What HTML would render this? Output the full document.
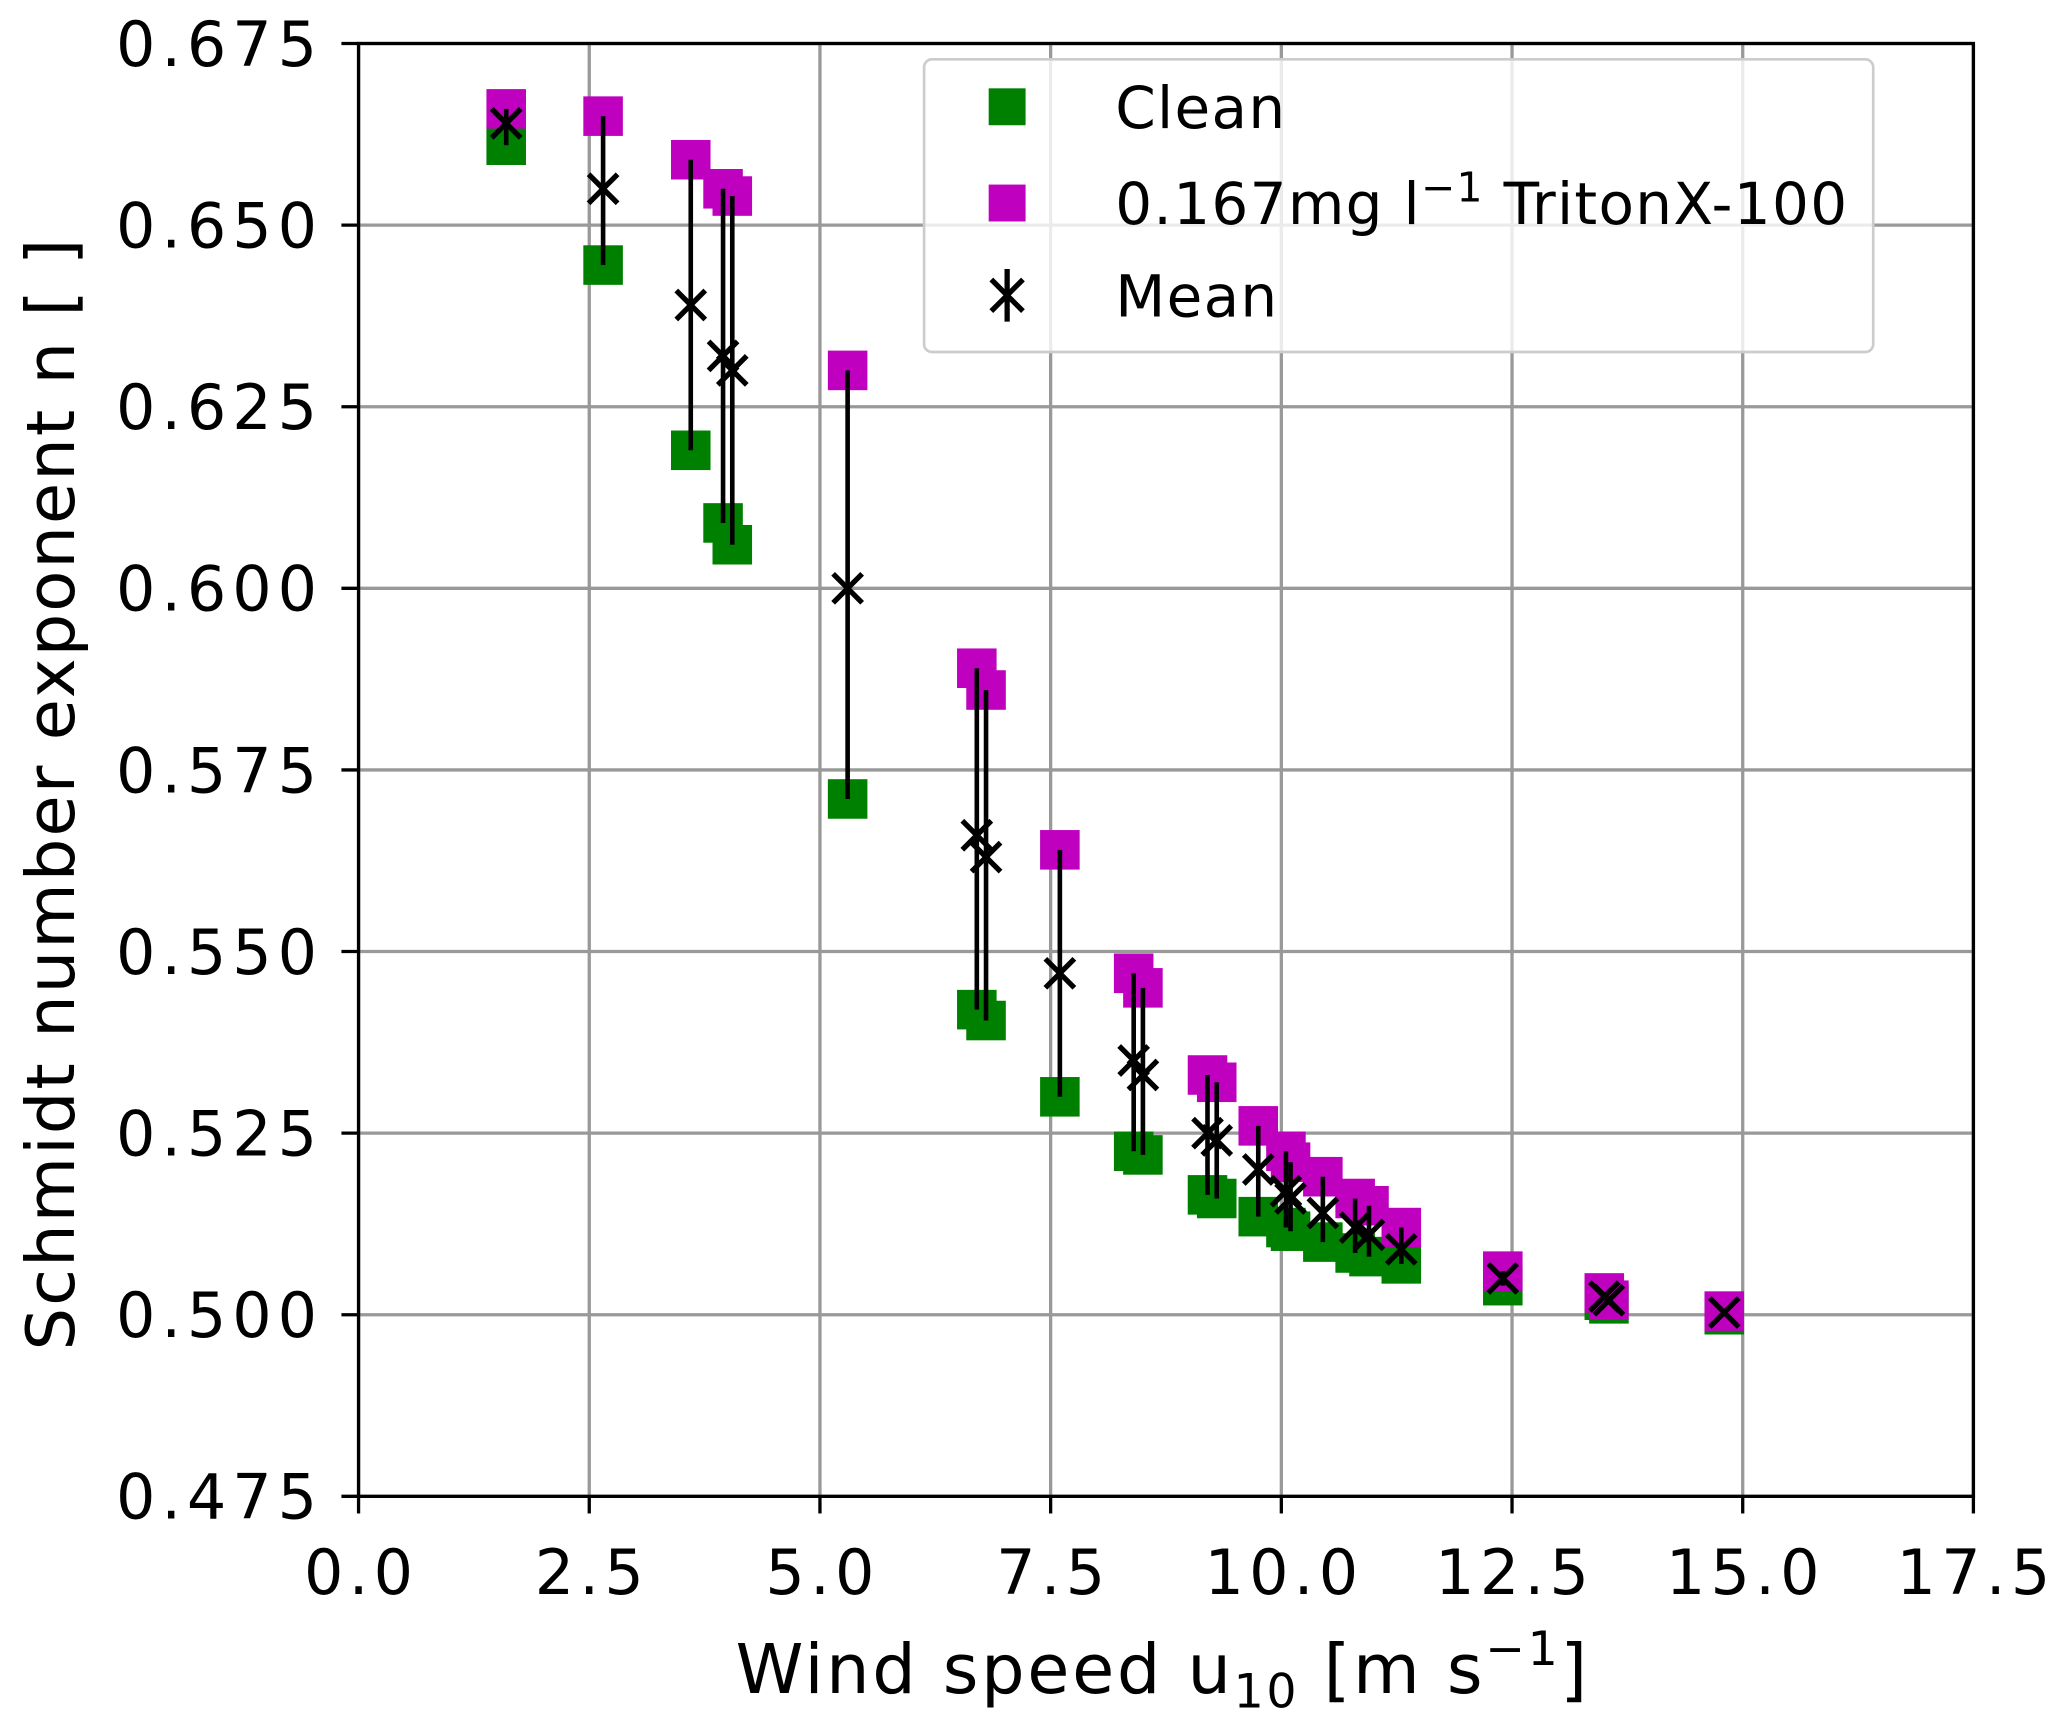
<!DOCTYPE html>
<html><head><meta charset="utf-8"><style>
html,body{margin:0;padding:0;background:#fff}
svg{display:block}
text{font-family:"DejaVu Sans","Liberation Sans",sans-serif;fill:#000}
</style></head><body>
<svg id="chart" width="2067" height="1731" viewBox="0 0 1568 1313" preserveAspectRatio="none" xmlns="http://www.w3.org/2000/svg">
<g id="grid"></g>
<g id="marks"></g>
<rect x="272" y="33" width="1225" height="1102" fill="none" stroke="#000" stroke-width="2.5"/>
<g id="ticks"></g>
<text x="882" y="1284" font-size="52" letter-spacing="2" text-anchor="middle">Wind speed u<tspan font-size="36" dy="11">10</tspan><tspan dy="-11"> [m s</tspan><tspan font-size="36" dy="-21">−1</tspan><tspan dy="21">]</tspan></text>
<text transform="translate(56,602) rotate(-90)" font-size="51" letter-spacing="1.5" text-anchor="middle">Schmidt number exponent n [ ]</text>
<g>
<rect x="701" y="45" width="720" height="222" rx="6" fill="#fff" fill-opacity="0.8" stroke="#ccc" stroke-width="2"/>
<rect x="750" y="67" width="28" height="28" fill="#008000"/>
<text x="846" y="97" font-size="44" letter-spacing="1">Clean</text>
<rect x="750" y="140" width="28" height="28" fill="#bf00bf"/>
<text x="846" y="170" font-size="44" letter-spacing="1">0.167mg l<tspan font-size="31" dy="-17">−1</tspan><tspan dy="17"> TritonX-100</tspan></text>
<g stroke="#000" stroke-width="4">
<line x1="764" y1="204" x2="764" y2="244"/><line x1="752" y1="212" x2="776" y2="236"/><line x1="752" y1="236" x2="776" y2="212"/></g>
<text x="846" y="240" font-size="44" letter-spacing="1">Mean</text>
</g>
</svg>
<script>
const windSpeed=[1.6,2.65,3.6,3.95,4.05,5.3,6.7,6.8,7.6,8.4,8.5,9.2,9.3,9.75,10.05,10.1,10.45,10.8,10.95,11.3,12.4,13.5,13.55,14.8];
const cleanN=[0.661,0.6445,0.619,0.609,0.606,0.571,0.542,0.5405,0.530,0.5225,0.522,0.5165,0.516,0.5135,0.512,0.5115,0.510,0.5085,0.508,0.507,0.504,0.502,0.5015,0.500];
const tritonN=[0.666,0.665,0.659,0.655,0.654,0.630,0.589,0.586,0.564,0.547,0.545,0.533,0.532,0.526,0.5225,0.521,0.519,0.516,0.515,0.512,0.506,0.503,0.502,0.5005];
const meanN=[0.664,0.655,0.639,0.632,0.630,0.600,0.566,0.563,0.547,0.535,0.533,0.525,0.524,0.520,0.517,0.516,0.514,0.512,0.511,0.509,0.505,0.5025,0.502,0.5003];
const xTicks=[0,2.5,5,7.5,10,12.5,15,17.5];
const yTicks=[0.475,0.5,0.525,0.55,0.575,0.6,0.625,0.65,0.675];
const NS="http://www.w3.org/2000/svg";
const X=v=>272+(v-0)/17.5*1225;
const Y=v=>1135-(v-0.475)/0.2*1102;
function mk(tag,attrs,parent){const e=document.createElementNS(NS,tag);for(const k in attrs)e.setAttribute(k,attrs[k]);parent.appendChild(e);return e;}
const grid=document.getElementById('grid'),ticks=document.getElementById('ticks'),marks=document.getElementById('marks');
xTicks.forEach(t=>{
 const g=mk('line',{x1:X(t),x2:X(t),y1:33,y2:1135,stroke:'#999','stroke-width':2.5},grid);
 
 
 const tk=mk('line',{x1:X(t),x2:X(t),y1:1135,y2:1148,stroke:'#000','stroke-width':2.5},ticks);
 
 
 const lb=mk('text',{x:X(t)+2,y:1209,'font-size':47,'letter-spacing':4,'text-anchor':'middle'},ticks);
 lb.textContent=t.toFixed(1);
 
 
});
yTicks.forEach(t=>{
 const g=mk('line',{x1:272,x2:1497,y1:Y(t),y2:Y(t),stroke:'#999','stroke-width':2.5},grid);
 
 
 const tk=mk('line',{x1:259,x2:272,y1:Y(t),y2:Y(t),stroke:'#000','stroke-width':2.5},ticks);
 
 
 const lb=mk('text',{x:245,y:Y(t)+17,'font-size':47,'letter-spacing':4.5,'text-anchor':'end'},ticks);
 lb.textContent=t.toFixed(3);
 
 
});
const s=15;
windSpeed.forEach((w,i)=>{
 const r=mk('rect',{x:X(w)-s,y:Y(cleanN[i])-s,width:2*s,height:2*s,fill:'#008000'},marks);
 
 
});
windSpeed.forEach((w,i)=>{
 const r=mk('rect',{x:X(w)-s,y:Y(tritonN[i])-s,width:2*s,height:2*s,fill:'#bf00bf'},marks);
 
 
});
windSpeed.forEach((w,i)=>{
 const x=X(w),y=Y(meanN[i]),d=11;
 const eb=mk('line',{x1:x,x2:x,y1:Y(cleanN[i]),y2:Y(tritonN[i]),stroke:'#000','stroke-width':3.5},marks);
 
 
 const p=mk('path',{d:`M${x-d},${y-d}L${x+d},${y+d}M${x-d},${y+d}L${x+d},${y-d}`,stroke:'#000','stroke-width':4,fill:'none'},marks);
 
 
});
</script>
</body></html>
